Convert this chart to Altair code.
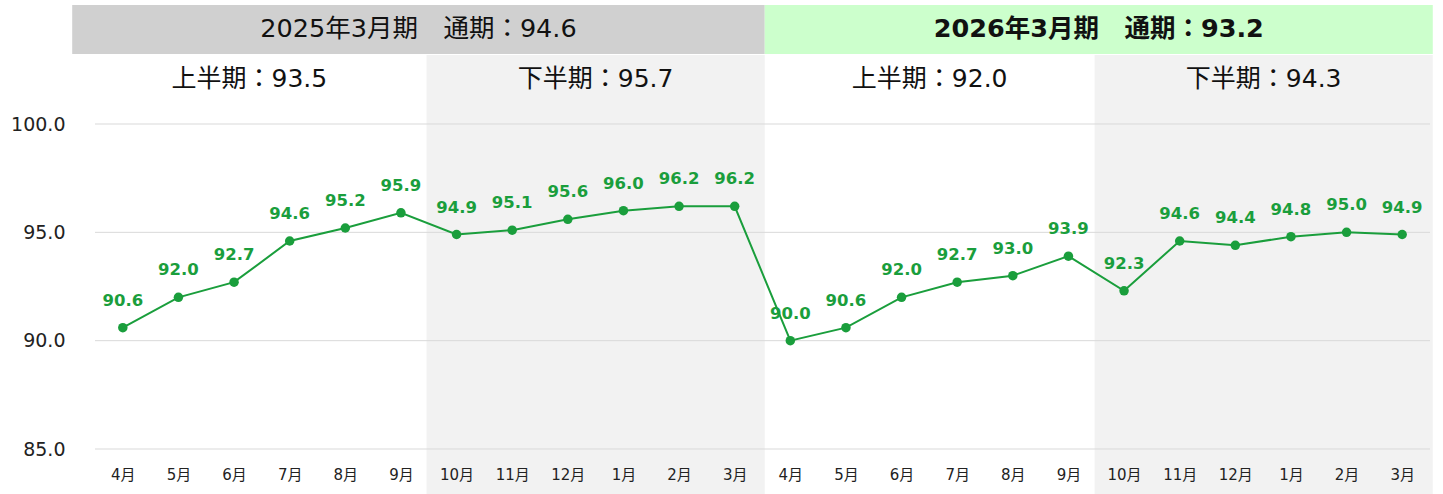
import altair as alt
import pandas as pd

months = ["4月", "5月", "6月", "7月", "8月", "9月", "10月", "11月", "12月", "1月", "2月", "3月"] * 2
values = [90.6, 92.0, 92.7, 94.6, 95.2, 95.9, 94.9, 95.1, 95.6, 96.0, 96.2, 96.2,
          90.0, 90.6, 92.0, 92.7, 93.0, 93.9, 92.3, 94.6, 94.4, 94.8, 95.0, 94.9]
y_ticks = [85, 90, 95, 100]

year_labels = ["2025年3月期　通期：94.6", "2026年3月期　通期：93.2"]
year_bold = [False, True]
year_colors = ["#d0d0d0", "#ccffcc"]
year_start = [-0.91, 11.54]
year_end = [11.54, 23.55]

half_labels = ["上半期：93.5", "下半期：95.7", "上半期：92.0", "下半期：94.3"]
half_start = [-0.91, 5.46, 11.54, 17.47]
half_end = [5.46, 11.54, 17.47, 23.55]
half_shaded = [False, True, False, True]

FONT = "DejaVu Sans, Noto Sans CJK JP"
GREEN = "#1a9e3c"

df = pd.DataFrame({"i": list(range(len(values))), "v": values, "m": months})
df["lab"] = [f"{v:.1f}" for v in values]

grid = pd.DataFrame({"v": y_ticks, "x": -0.5, "x2": 23.5})

years = pd.DataFrame({"x": year_start, "x2": year_end, "lab": year_labels,
                      "b": year_bold, "c": year_colors})
years["xc"] = (years["x"] + years["x2"]) / 2
years["y"] = 105.49
years["y2"] = 103.23
years["ty"] = 104.4

halves = pd.DataFrame({"x": half_start, "x2": half_end, "lab": half_labels, "s": half_shaded})
halves["xc"] = (halves["x"] + halves["x2"]) / 2
halves["y"] = 103.18
halves["y2"] = 82.92
halves["ty"] = 102.1
shaded = halves[halves["s"]]

xs = alt.Scale(domain=[-0.5, 23.5], nice=False, zero=False)
ys = alt.Scale(domain=[85, 100], nice=False, zero=False)

month_expr = "[" + ",".join(f"'{m}'" for m in months) + "][datum.value]"

shade = alt.Chart(shaded).mark_rect(color="#f2f2f2").encode(
    x=alt.X("x:Q", scale=xs), x2="x2:Q",
    y=alt.Y("y:Q", scale=ys), y2="y2:Q")

gridlines = alt.Chart(grid).mark_rule(color="#d9d9d9", strokeWidth=1).encode(
    x=alt.X("x:Q", scale=xs), x2="x2:Q", y=alt.Y("v:Q", scale=ys))

base_axes = alt.Chart(df).mark_point(opacity=0).encode(
    x=alt.X("i:Q", scale=xs, title=None,
            axis=alt.Axis(values=list(range(24)), labelExpr=month_expr, domain=False,
                          ticks=False, grid=False, labelFont=FONT, labelFontSize=15,
                          labelColor="#222222", labelPadding=18, labelOverlap=False,
                          zindex=1)),
    y=alt.Y("v:Q", scale=ys, title=None,
            axis=alt.Axis(values=y_ticks, format=".1f", domain=False, ticks=False,
                          grid=False, labelFont=FONT, labelFontSize=19,
                          labelColor="#222222", labelPadding=30, zindex=1)))

year_rect = alt.Chart(years).mark_rect().encode(
    x=alt.X("x:Q", scale=xs), x2="x2:Q",
    y=alt.Y("y:Q", scale=ys), y2="y2:Q",
    color=alt.Color("c:N", scale=None))

year_text_n = alt.Chart(years[~years["b"]]).mark_text(
    font=FONT, fontSize=25.5, color="#111111", baseline="middle").encode(
    x=alt.X("xc:Q", scale=xs), y=alt.Y("ty:Q", scale=ys), text="lab:N")

year_text_b = alt.Chart(years[years["b"]]).mark_text(
    font=FONT, fontSize=25.5, fontWeight="bold", color="#111111", baseline="middle").encode(
    x=alt.X("xc:Q", scale=xs), y=alt.Y("ty:Q", scale=ys), text="lab:N")

half_text = alt.Chart(halves).mark_text(font=FONT, fontSize=25, color="#111111",
                                        baseline="middle").encode(
    x=alt.X("xc:Q", scale=xs), y=alt.Y("ty:Q", scale=ys), text="lab:N")

line = alt.Chart(df).mark_line(color=GREEN, strokeWidth=2).encode(
    x=alt.X("i:Q", scale=xs), y=alt.Y("v:Q", scale=ys))

pts = alt.Chart(df).mark_circle(color=GREEN, size=90, opacity=1).encode(
    x=alt.X("i:Q", scale=xs), y=alt.Y("v:Q", scale=ys))

labels = alt.Chart(df).mark_text(font=FONT, fontSize=16.5, fontWeight="bold", color=GREEN,
                                 baseline="alphabetic", dy=-22).encode(
    x=alt.X("i:Q", scale=xs), y=alt.Y("v:Q", scale=ys), text="lab:N")

chart = alt.layer(shade, gridlines, base_axes, year_rect, year_text_n, year_text_b, half_text,
                  line, pts, labels).properties(
    width=1335, height=325,
    padding={"left": 95, "right": 13, "top": 124, "bottom": 45},
    autosize=alt.AutoSizeParams(type="none"),
    background="white",
).configure_view(stroke=None)

chart.save("out.html", embed_options={"renderer": "svg", "actions": False})
